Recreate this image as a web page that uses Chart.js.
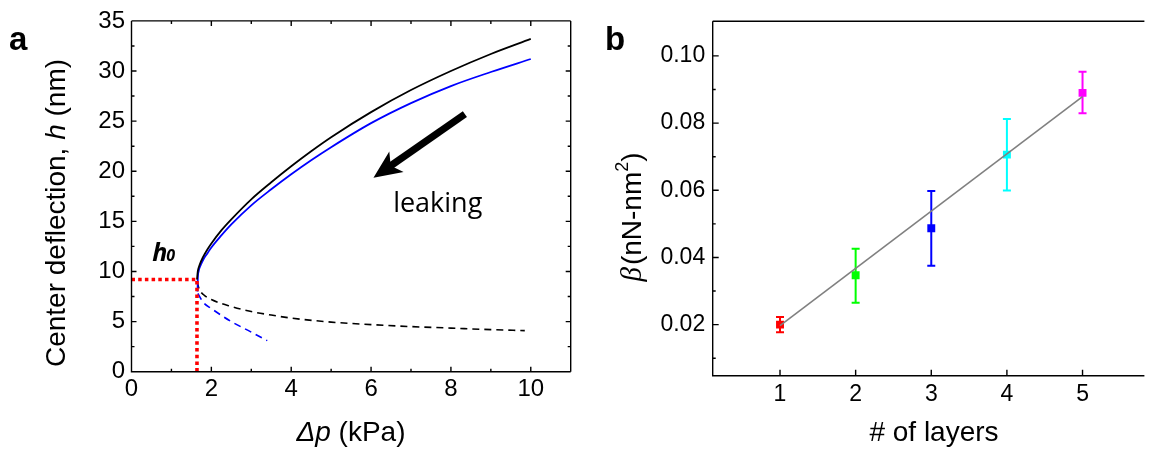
<!DOCTYPE html>
<html><head><meta charset="utf-8">
<script src="https://cdn.jsdelivr.net/npm/chart.js@4.4.1/dist/chart.umd.min.js"></script>
<style>
html,body{margin:0;padding:0;background:#fff;overflow:hidden;}
#wrap{position:relative;width:1150px;height:455px;background:#fff;}
canvas{position:absolute;top:0;}
</style></head><body>
<div id="wrap">
<canvas id="ca" width="580" height="455" style="left:0;width:580px;height:455px"></canvas>
<canvas id="cb" width="570" height="455" style="left:580px;width:570px;height:455px"></canvas>
</div>
<script>
// ---------- Panel a data ----------
const blackSolidX = [1.64, 1.66, 1.70, 1.80, 1.90, 2.00, 2.25, 2.50, 3.00, 3.50, 4.00, 4.50, 5.00, 6.00, 7.00, 8.00, 9.00, 10.00];
const blackSolidY = [9.2, 10.0, 10.6, 11.5, 12.2, 12.8, 14.1, 15.2, 17.2, 18.9, 20.5, 22.0, 23.4, 25.9, 28.1, 30.0, 31.7, 33.2];
const blueSolidX = [1.655, 1.66, 1.68, 1.74, 1.80, 1.90, 2.00, 2.25, 2.50, 3.00, 3.50, 4.00, 4.50, 5.00, 6.00, 7.00, 8.00, 9.00, 10.00];
const blueSolidY = [8.0, 9.2, 10.0, 10.7, 11.2, 11.8, 12.4, 13.6, 14.7, 16.6, 18.2, 19.7, 21.1, 22.4, 24.8, 26.8, 28.5, 29.9, 31.2];
const blackDashX = [1.64, 1.70, 1.80, 2.00, 2.50, 3.00, 3.50, 4.00, 5.00, 6.00, 7.00, 8.00, 9.00, 9.85];
const blackDashY = [9.0, 8.2, 7.7, 7.2, 6.5, 6.0, 5.65, 5.35, 4.95, 4.7, 4.5, 4.35, 4.2, 4.1];
const blueDashX = [1.66, 1.80, 2.00, 2.50, 3.00, 3.40];
const blueDashY = [7.8, 6.9, 6.3, 5.0, 3.95, 3.1];
const h0LineX = [0, 1.64, 1.64];
const h0LineY = [9.2, 9.2, 0];
const aXTicks = [0, 2, 4, 6, 8, 10];
const aXMinor = [1, 3, 5, 7, 9, 11];
const aYTicks = [0, 5, 10, 15, 20, 25, 30, 35];
const aYMinor = [2.5, 7.5, 12.5, 17.5, 22.5, 27.5, 32.5];
const arrowFrom = [8.35, 25.7];
const arrowTo = [6.06, 19.35];
const leakingPos = [7.67, 15.9];
const h0Pos = [0.52, 11.0];

// ---------- Panel b data ----------
const layers = [1, 2, 3, 4, 5];
const beta = [0.0200, 0.0347, 0.0487, 0.0706, 0.0890];
const betaLow = [0.0177, 0.0265, 0.0375, 0.0599, 0.0829];
const betaHigh = [0.0223, 0.0426, 0.0598, 0.0812, 0.0953];
const pointColors = ['#ff0000', '#00ff00', '#0000ff', '#00ffff', '#ff00ff'];
const fitX = [1, 5];
const fitY = [0.0197, 0.0879];
const bXTicks = [1, 2, 3, 4, 5];
const bYTicks = [0.02, 0.04, 0.06, 0.08, 0.10];
const bYMinor = [0.01, 0.03, 0.05, 0.07, 0.09];

const SANS = '"Liberation Sans", Arial, sans-serif';
const pts = (xs, ys) => xs.map((x, i) => ({x, y: ys[i]}));

function drawRich(ctx, segs, cx, cy, rot) {
  ctx.save();
  ctx.translate(cx, cy);
  ctx.rotate(rot || 0);
  ctx.textBaseline = 'middle';
  ctx.textAlign = 'left';
  ctx.fillStyle = '#000';
  let w = 0;
  segs.forEach(s => { ctx.font = s.font; s.w = ctx.measureText(s.text).width; w += s.w + (s.dx || 0); });
  let xx = -w / 2;
  segs.forEach(s => { ctx.font = s.font; xx += (s.dx || 0); ctx.fillText(s.text, xx, s.dy || 0); xx += s.w; });
  ctx.restore();
}

const frameTicks = {
  id: 'frameTicks',
  afterDatasetsDraw(chart, args, o) {
    const {ctx, chartArea: a} = chart;
    const x = chart.scales.x, y = chart.scales.y;
    ctx.save();
    ctx.strokeStyle = '#000';
    ctx.lineWidth = 1.4;
    ctx.beginPath();
    ctx.moveTo(a.left, a.top); ctx.lineTo(a.left, a.bottom); ctx.lineTo(a.right, a.bottom);
    ctx.moveTo(a.left, a.top); ctx.lineTo(a.right, a.top);
    if (o.rightBorder) { ctx.moveTo(a.right, a.top); ctx.lineTo(a.right, a.bottom); }
    const tx = (vals, len) => vals.forEach(v => {
      const p = x.getPixelForValue(v);
      ctx.moveTo(p, a.bottom); ctx.lineTo(p, a.bottom - len);
      if (o.mirror) { ctx.moveTo(p, a.top); ctx.lineTo(p, a.top + len); }
    });
    const ty = (vals, len) => vals.forEach(v => {
      const p = y.getPixelForValue(v);
      ctx.moveTo(a.left, p); ctx.lineTo(a.left + len, p);
      if (o.mirror) { ctx.moveTo(a.right, p); ctx.lineTo(a.right - len, p); }
    });
    tx(o.xMajor || [], o.majorLen); tx(o.xMinor || [], o.minorLen);
    ty(o.yMajor || [], o.majorLen); ty(o.yMinor || [], o.minorLen);
    ctx.stroke();
    ctx.restore();
  }
};

const annotA = {
  id: 'annotA',
  afterDraw(chart) {
    const {ctx} = chart;
    const x = chart.scales.x, y = chart.scales.y;
    // arrow
    const x1 = x.getPixelForValue(arrowFrom[0]), y1 = y.getPixelForValue(arrowFrom[1]);
    const x2 = x.getPixelForValue(arrowTo[0]), y2 = y.getPixelForValue(arrowTo[1]);
    const ang = Math.atan2(y2 - y1, x2 - x1), L = Math.hypot(x2 - x1, y2 - y1);
    ctx.save();
    ctx.translate(x2, y2); ctx.rotate(ang);
    ctx.fillStyle = '#000';
    ctx.fillRect(-L, -3.6, L - 18, 7.2);
    ctx.beginPath();
    ctx.moveTo(0, 0); ctx.lineTo(-28, -12.5); ctx.lineTo(-21, 0); ctx.lineTo(-28, 12.5); ctx.closePath();
    ctx.fill();
    ctx.restore();
    // leaking
    ctx.save();
    ctx.fillStyle = '#000';
    ctx.font = '27px "Open Sans", sans-serif';
    ctx.textAlign = 'center'; ctx.textBaseline = 'alphabetic';
    ctx.fillText('leaking', x.getPixelForValue(leakingPos[0]), y.getPixelForValue(leakingPos[1]));
    // h0
    ctx.textAlign = 'left';
    const hx = x.getPixelForValue(h0Pos[0]), hy = y.getPixelForValue(h0Pos[1]);
    ctx.font = 'italic bold 25px "Open Sans", sans-serif';
    ctx.fillText('h', hx, hy);
    const hw = ctx.measureText('h').width;
    ctx.font = 'italic bold 16px "Open Sans", sans-serif';
    ctx.fillText('0', hx + hw - 1, hy);
    ctx.restore();
    // titles
    drawRich(ctx, [
      {text: 'Center deflection, ', font: '28px ' + SANS},
      {text: 'h', font: 'italic 28px ' + SANS},
      {text: ' (nm)', font: '28px ' + SANS}
    ], 57, 213, -Math.PI / 2);
    drawRich(ctx, [
      {text: 'Δp', font: 'italic 28px ' + SANS},
      {text: ' (kPa)', font: '28px ' + SANS}
    ], 351, 433, 0);
    ctx.save();
    ctx.font = 'bold 33px ' + SANS; ctx.fillStyle = '#000';
    ctx.textBaseline = 'alphabetic'; ctx.textAlign = 'left';
    ctx.fillText('a', 9, 50);
    ctx.restore();
  }
};

const errBars = {
  id: 'errBars',
  beforeDatasetsDraw(chart) {
    const {ctx} = chart;
    const x = chart.scales.x, y = chart.scales.y;
    ctx.save();
    ctx.lineWidth = 2;
    layers.forEach((l, i) => {
      const px = x.getPixelForValue(l), pl = y.getPixelForValue(betaLow[i]), ph = y.getPixelForValue(betaHigh[i]);
      ctx.strokeStyle = pointColors[i];
      ctx.beginPath();
      ctx.moveTo(px, pl); ctx.lineTo(px, ph);
      ctx.moveTo(px - 4, pl); ctx.lineTo(px + 4, pl);
      ctx.moveTo(px - 4, ph); ctx.lineTo(px + 4, ph);
      ctx.stroke();
    });
    ctx.restore();
  },
  afterDraw(chart) {
    const {ctx} = chart;
    drawRich(ctx, [
      {text: 'β', font: 'italic 29px "Liberation Serif", serif'},
      {text: '(nN-nm', font: '28px ' + SANS, dx: 2},
      {text: '2', font: '18px ' + SANS, dy: -10},
      {text: ')', font: '28px ' + SANS}
    ], 53, 217, -Math.PI / 2);
    drawRich(ctx, [{text: '# of layers', font: '28px ' + SANS}], 354, 433, 0);
    ctx.save();
    ctx.font = 'bold 33px ' + SANS; ctx.fillStyle = '#000';
    ctx.textBaseline = 'alphabetic'; ctx.textAlign = 'left';
    ctx.fillText('b', 25, 50);
    ctx.restore();
  }
};

function axisCfg(min, max, ticksArr, fmt, fontSize, pad, fit) {
  return {
    type: 'linear', min, max,
    grid: {display: false, drawTicks: false},
    border: {display: false},
    afterBuildTicks: s => { s.ticks = ticksArr.map(v => ({value: v})); },
    afterFit: fit,
    ticks: {color: '#000', font: {family: SANS, size: fontSize}, padding: pad, autoSkip: false, maxRotation: 0,
      includeBounds: false, callback: fmt}
  };
}

const common = {
  responsive: false, animation: false, devicePixelRatio: 1,
  plugins: {legend: {display: false}, tooltip: {enabled: false}},
  elements: {point: {radius: 0}}
};

new Chart(document.getElementById('ca'), {
  type: 'scatter',
  data: {datasets: [
    {data: pts(h0LineX, h0LineY), showLine: true, borderColor: '#ff0000', borderWidth: 3.6, borderDash: [3.5, 3.2], pointRadius: 0, borderCapStyle: 'butt'},
    {data: pts(blackSolidX, blackSolidY), showLine: true, borderColor: '#000', borderWidth: 1.8, pointRadius: 0, cubicInterpolationMode: 'monotone'},
    {data: pts(blueSolidX, blueSolidY), showLine: true, borderColor: '#0000ff', borderWidth: 1.8, pointRadius: 0, cubicInterpolationMode: 'monotone'},
    {data: pts(blackDashX, blackDashY), showLine: true, borderColor: '#000', borderWidth: 1.6, borderDash: [7, 5], pointRadius: 0, cubicInterpolationMode: 'monotone'},
    {data: pts(blueDashX, blueDashY), showLine: true, borderColor: '#0000ff', borderWidth: 1.6, borderDash: [7, 5], pointRadius: 0, cubicInterpolationMode: 'monotone'}
  ]},
  options: Object.assign({}, common, {
    layout: {padding: {top: 15.5, right: 9.3, left: 0, bottom: 0}},
    scales: {
      x: axisCfg(0, 11, aXTicks, v => String(v), 24, 3, s => { s.height = 83.3; }),
      y: axisCfg(0, 35, aYTicks, v => String(v), 24, 6.5, s => { s.width = 131.5; })
    },
    plugins: Object.assign({}, common.plugins, {
      frameTicks: {mirror: true, rightBorder: true, xMajor: aXTicks, xMinor: aXMinor, yMajor: aYTicks, yMinor: aYMinor, majorLen: 5, minorLen: 3}
    })
  }),
  plugins: [frameTicks, annotA]
});

new Chart(document.getElementById('cb'), {
  type: 'scatter',
  data: {datasets: [
    {data: pts(fitX, fitY), showLine: true, borderColor: '#808080', borderWidth: 1.6, pointRadius: 0, order: 0},
    {data: pts(layers, beta), showLine: false, pointStyle: 'rect', pointRadius: 5.6, pointBorderWidth: 0,
      pointBackgroundColor: pointColors, pointBorderColor: pointColors, order: 1}
  ]},
  options: Object.assign({}, common, {
    layout: {padding: {top: 16, right: 0, left: 0, bottom: 0}},
    scales: {
      x: axisCfg(0.11, 5.818, bXTicks, v => String(v), 23, 5, s => { s.height = 79.3; }),
      y: axisCfg(0.0048, 0.1103, bYTicks, v => Number(v).toFixed(2), 23, 7.5, s => { s.width = 132.7; })
    },
    plugins: Object.assign({}, common.plugins, {
      frameTicks: {mirror: false, rightBorder: false, xMajor: bXTicks, yMajor: bYTicks, yMinor: bYMinor, majorLen: 6, minorLen: 3}
    })
  }),
  plugins: [errBars, frameTicks]
});
</script>
</body></html>
